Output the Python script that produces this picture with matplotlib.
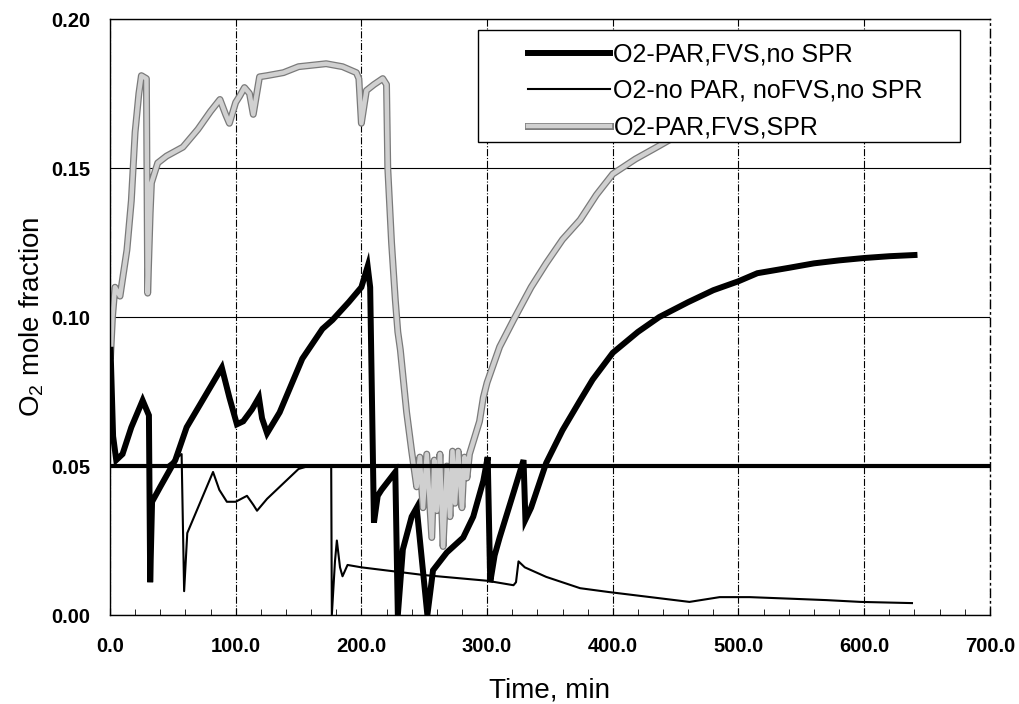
import matplotlib
matplotlib.use("Agg")
import matplotlib.pyplot as plt
import matplotlib.patheffects as pe
from matplotlib.patches import Rectangle
from matplotlib.ticker import FormatStrFormatter, MultipleLocator

plt.rcParams["font.family"] = ["Liberation Sans", "DejaVu Sans"]
plt.rcParams["mathtext.fontset"] = "custom"
plt.rcParams["mathtext.rm"] = "Liberation Sans"

# series 1: O2-PAR,FVS,no SPR (thick black)
par_time = [0.5, 2.5, 5, 10, 17, 26, 31, 32, 33.5, 40, 52, 61, 68, 75, 82, 89, 95, 101,
            106, 113, 118.5, 121, 125, 135, 153, 169, 177, 190, 200, 205, 207, 210, 213,
            216, 227, 229, 233, 240, 244, 252.5, 257, 268, 281, 289, 297, 300.5, 302.5,
            306, 310, 321, 329, 330.5, 335, 347, 360, 374, 384, 400, 420, 437, 460, 480,
            500, 515, 540, 560, 580, 600, 620, 640]
par_o2 = [0.089, 0.060, 0.052, 0.054, 0.063, 0.072, 0.067, 0.011, 0.038, 0.043, 0.052,
          0.063, 0.068, 0.073, 0.078, 0.083, 0.073, 0.064, 0.065, 0.069, 0.073, 0.066,
          0.061, 0.068, 0.086, 0.096, 0.099, 0.105, 0.110, 0.117, 0.110, 0.031, 0.040,
          0.042, 0.048, 0.000, 0.022, 0.033, 0.036, 0.000, 0.015, 0.021, 0.026, 0.033,
          0.045, 0.053, 0.011, 0.020, 0.026, 0.041, 0.052, 0.032, 0.036, 0.051, 0.062,
          0.072, 0.079, 0.088, 0.095, 0.100, 0.105, 0.109, 0.112, 0.1147, 0.1165, 0.118,
          0.119, 0.1198, 0.1204, 0.1208]

# series 2: O2-no PAR, noFVS,no SPR (thin black)
nopar_time = [0, 45, 57, 59, 61.5, 70, 82, 87, 93, 100, 109, 114, 117, 125, 135, 150, 158,
              176, 176.5, 179, 180.5, 183, 185, 189, 200, 250, 300, 321, 323, 325, 330,
              347, 374, 397, 430, 461, 485, 509, 540, 570, 597, 638]
nopar_o2 = [0.050, 0.050, 0.054, 0.008, 0.0275, 0.036, 0.048, 0.042, 0.038, 0.038, 0.040,
            0.037, 0.035, 0.039, 0.043, 0.049, 0.050, 0.050, 0.000, 0.018, 0.025, 0.016,
            0.013, 0.0168, 0.016, 0.0134, 0.0115, 0.010, 0.011, 0.018, 0.016, 0.0128,
            0.009, 0.0077, 0.006, 0.0044, 0.006, 0.006, 0.0055, 0.005, 0.0044, 0.0040]

# series 3: O2-PAR,FVS,SPR (grey band)
spr_time = [0.5, 2, 4, 8, 13.5, 17, 20, 23, 25, 29, 30, 32, 33, 38, 45, 58, 70, 80, 87.5,
            92, 95, 100, 103, 107, 111, 114, 119, 125, 138, 150, 172, 185, 196, 198, 200,
            204, 210, 217, 220, 221, 224, 227, 229, 231, 236, 240, 241, 244, 246.5, 249,
            252, 256, 258, 260, 262.5, 265, 268, 270.5, 272.5, 274.5, 277, 280, 282, 284,
            286, 294, 297, 300, 310, 321, 335, 347, 360, 374, 387, 400, 418, 435, 460,
            500, 550, 600, 640]
spr_o2 = [0.087, 0.100, 0.110, 0.107, 0.1225, 0.139, 0.162, 0.175, 0.181, 0.180, 0.108,
          0.135, 0.145, 0.1517, 0.154, 0.157, 0.163, 0.169, 0.173, 0.168, 0.165, 0.172,
          0.174, 0.177, 0.175, 0.168, 0.1806, 0.181, 0.182, 0.184, 0.185, 0.184, 0.182,
          0.180, 0.165, 0.176, 0.178, 0.180, 0.178, 0.150, 0.125, 0.1057, 0.095, 0.089,
          0.068, 0.055, 0.052, 0.043, 0.053, 0.036, 0.054, 0.026, 0.052, 0.035, 0.054,
          0.023, 0.050, 0.033, 0.055, 0.0375, 0.055, 0.036, 0.053, 0.046, 0.054, 0.065,
          0.073, 0.078, 0.090, 0.099, 0.110, 0.118, 0.126, 0.1326, 0.141, 0.148, 0.153,
          0.157, 0.163, 0.170, 0.176, 0.180, 0.182]

O2_LIMIT = 0.05
labels = ["O2-PAR,FVS,no SPR", "O2-no PAR, noFVS,no SPR", "O2-PAR,FVS,SPR"]

fig = plt.figure(figsize=(10.2, 7.04), dpi=100)
ax = fig.add_axes([0.1078, 0.1264, 0.8627, 0.8466])

# grey band drawn as a light line with a darker edge, like the scanned hatching
grey, = ax.plot(spr_time, spr_o2, color="#d0d0d0", linewidth=3.2, zorder=2,
                solid_joinstyle="round",
                path_effects=[pe.Stroke(linewidth=5.0, foreground="#7a7a7a",
                                        joinstyle="round"), pe.Normal()])
ax.axhline(O2_LIMIT, color="black", linewidth=3, zorder=3)
thin, = ax.plot(nopar_time, nopar_o2, color="black", linewidth=1.5, zorder=3)
thick, = ax.plot(par_time, par_o2, color="black", linewidth=4.3, zorder=3,
                 solid_joinstyle="miter")

ax.set_xlim(0, 700)
ax.set_ylim(0, 0.20)
ax.xaxis.set_major_locator(MultipleLocator(100))
ax.xaxis.set_minor_locator(MultipleLocator(20))
ax.yaxis.set_major_locator(MultipleLocator(0.05))
ax.xaxis.set_major_formatter(FormatStrFormatter("%.1f"))
ax.yaxis.set_major_formatter(FormatStrFormatter("%.2f"))
ax.tick_params(axis="x", which="major", direction="in", length=5, pad=16,
               labelsize=14.5)
ax.tick_params(axis="x", which="minor", direction="in", length=4)
ax.tick_params(axis="y", which="major", direction="in", length=0, pad=14, labelsize=14.5)
for lab in ax.get_xticklabels() + ax.get_yticklabels():
    lab.set_fontweight("bold")

ax.grid(True, axis="x", color="black", linestyle="-.", linewidth=0.8)
ax.grid(True, axis="y", color="black", linestyle="-", linewidth=0.8)
for side in ax.spines:
    ax.spines[side].set_linewidth(1.0)
ax.spines["right"].set_linestyle((0, (6, 3, 1, 3)))

ax.set_xlabel("Time, min", fontsize=20, labelpad=15)
ax.set_ylabel(r"O$_\mathregular{2}$ mole fraction", fontsize=20, labelpad=4)

box = Rectangle((0.418, 0.7936), 0.548, 0.188, transform=ax.transAxes,
                facecolor="white", edgecolor="black", linewidth=1.0, zorder=4)
ax.add_patch(box)
leg = ax.legend([thick, thin, grey], labels, loc="upper left",
                bbox_to_anchor=(0.475, 0.961), frameon=False, fontsize=18,
                borderpad=0, borderaxespad=0, handlelength=3.3,
                handletextpad=0.12, labelspacing=0.5)
leg.set_zorder(5)

fig.savefig("out.png", dpi=100)
